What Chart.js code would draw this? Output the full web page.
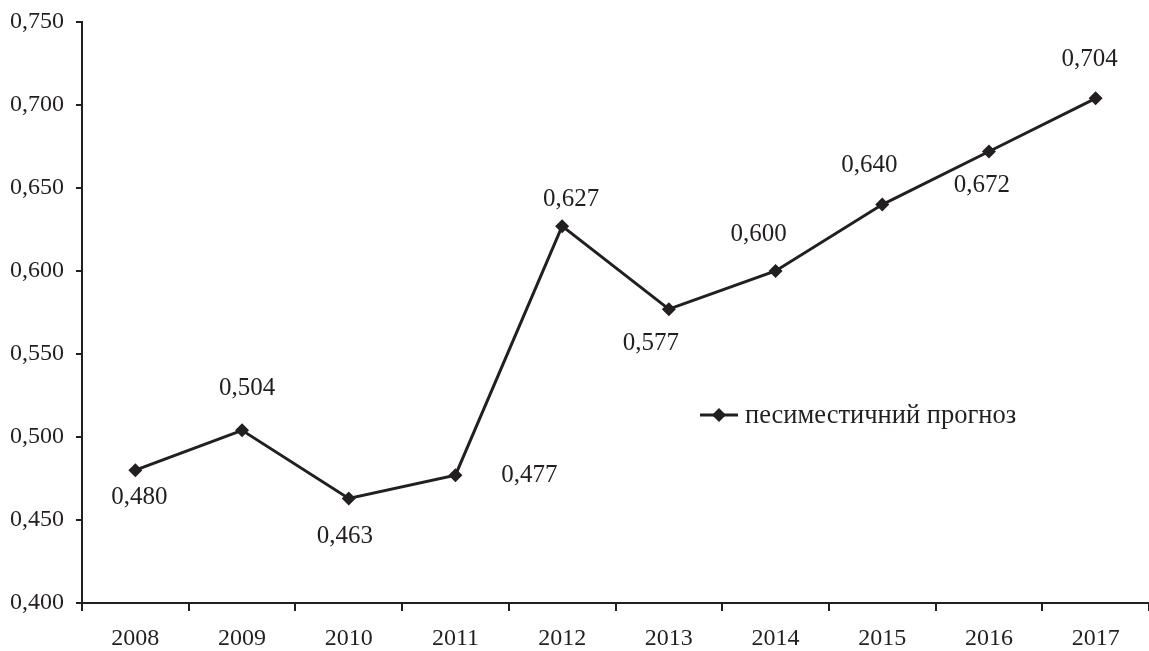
<!DOCTYPE html>
<html>
<head>
<meta charset="utf-8">
<script src="https://cdn.jsdelivr.net/npm/chart.js@4/dist/chart.umd.min.js"></script>
<style>
html,body{margin:0;padding:0;background:#fff;}
#wrap{width:1149px;height:651px;position:relative;}
</style>
</head>
<body>
<div id="wrap"><canvas id="c" width="1149" height="651"></canvas></div>
<script>
const years = ['2008','2009','2010','2011','2012','2013','2014','2015','2016','2017'];
const pessimistic = [0.480,0.504,0.463,0.477,0.627,0.577,0.600,0.640,0.672,0.704];
const seriesName = 'песиместичний прогноз';
const yTicks = [0.400,0.450,0.500,0.550,0.600,0.650,0.700,0.750];
// label placement relative to each point (pixels)
const labelDx = [4, 5, -4, 74, 9, -18, -17, -13, -7, -6];
const labelDy = [27, -42, 38, 0, -27, 34, -37, -39, 34, -39];

const INK = '#231f20';
const FONT = '"Liberation Serif", "Times New Roman", serif';
const fmt = v => v.toFixed(3).replace('.', ',');

const labelPlugin = {
  id: 'valueLabels',
  afterDatasetsDraw(chart) {
    const ctx = chart.ctx;
    const meta = chart.getDatasetMeta(0);
    ctx.save();
    ctx.fillStyle = INK;
    ctx.font = '25px ' + FONT;
    ctx.textBaseline = 'middle';
    ctx.textAlign = 'center';
    meta.data.forEach((pt, i) => {
      ctx.fillText(fmt(pessimistic[i]), pt.x + labelDx[i], pt.y + labelDy[i]);
    });
    // legend
    const lx = 700, ly = 415;
    ctx.strokeStyle = INK;
    ctx.lineWidth = 3;
    ctx.beginPath(); ctx.moveTo(lx, ly); ctx.lineTo(lx + 38, ly); ctx.stroke();
    ctx.beginPath();
    const cx = lx + 19, r = 7;
    ctx.moveTo(cx, ly - r); ctx.lineTo(cx + r, ly); ctx.lineTo(cx, ly + r); ctx.lineTo(cx - r, ly); ctx.closePath();
    ctx.fill();
    ctx.font = '26.5px ' + FONT;
    ctx.textAlign = 'left';
    ctx.fillText(seriesName, lx + 45, ly + 1);
    ctx.restore();
  }
};

new Chart(document.getElementById('c'), {
  type: 'line',
  data: {
    labels: years,
    datasets: [{
      label: seriesName,
      data: pessimistic,
      borderColor: INK,
      backgroundColor: INK,
      borderWidth: 3,
      pointStyle: 'rectRot',
      pointRadius: 7,
      pointHoverRadius: 7,
      pointBackgroundColor: INK,
      pointBorderColor: INK,
      pointBorderWidth: 0,
      tension: 0,
      fill: false,
      clip: false
    }]
  },
  options: {
    responsive: false,
    animation: false,
    devicePixelRatio: 1,
    layout: { autoPadding: false, padding: { top: 22, right: 0, left: 0, bottom: 0 } },
    plugins: { legend: { display: false }, tooltip: { enabled: false } },
    scales: {
      x: {
        offset: true,
        grid: { offset: true, drawOnChartArea: false, drawTicks: true, tickLength: 8, color: INK, lineWidth: 2 },
        border: { display: true, color: INK, width: 2 },
        ticks: { color: INK, font: { family: FONT, size: 24 }, padding: 13, maxRotation: 0, autoSkip: false },
        afterFit(s) { s.height = 48; s.paddingLeft = 0; s.paddingRight = 0; }
      },
      y: {
        min: 0.4, max: 0.75,
        afterBuildTicks(s) { s.ticks = yTicks.map(v => ({ value: v })); },
        grid: { drawOnChartArea: false, drawTicks: true, tickLength: 6, color: INK, lineWidth: 2 },
        border: { display: true, color: INK, width: 2 },
        ticks: { color: INK, font: { family: FONT, size: 24 }, padding: 12, callback: v => fmt(v) },
        afterFit(s) { s.width = 82; s.paddingTop = 0; s.paddingBottom = 0; }
      }
    }
  },
  plugins: [labelPlugin]
});
</script>
</body>
</html>
